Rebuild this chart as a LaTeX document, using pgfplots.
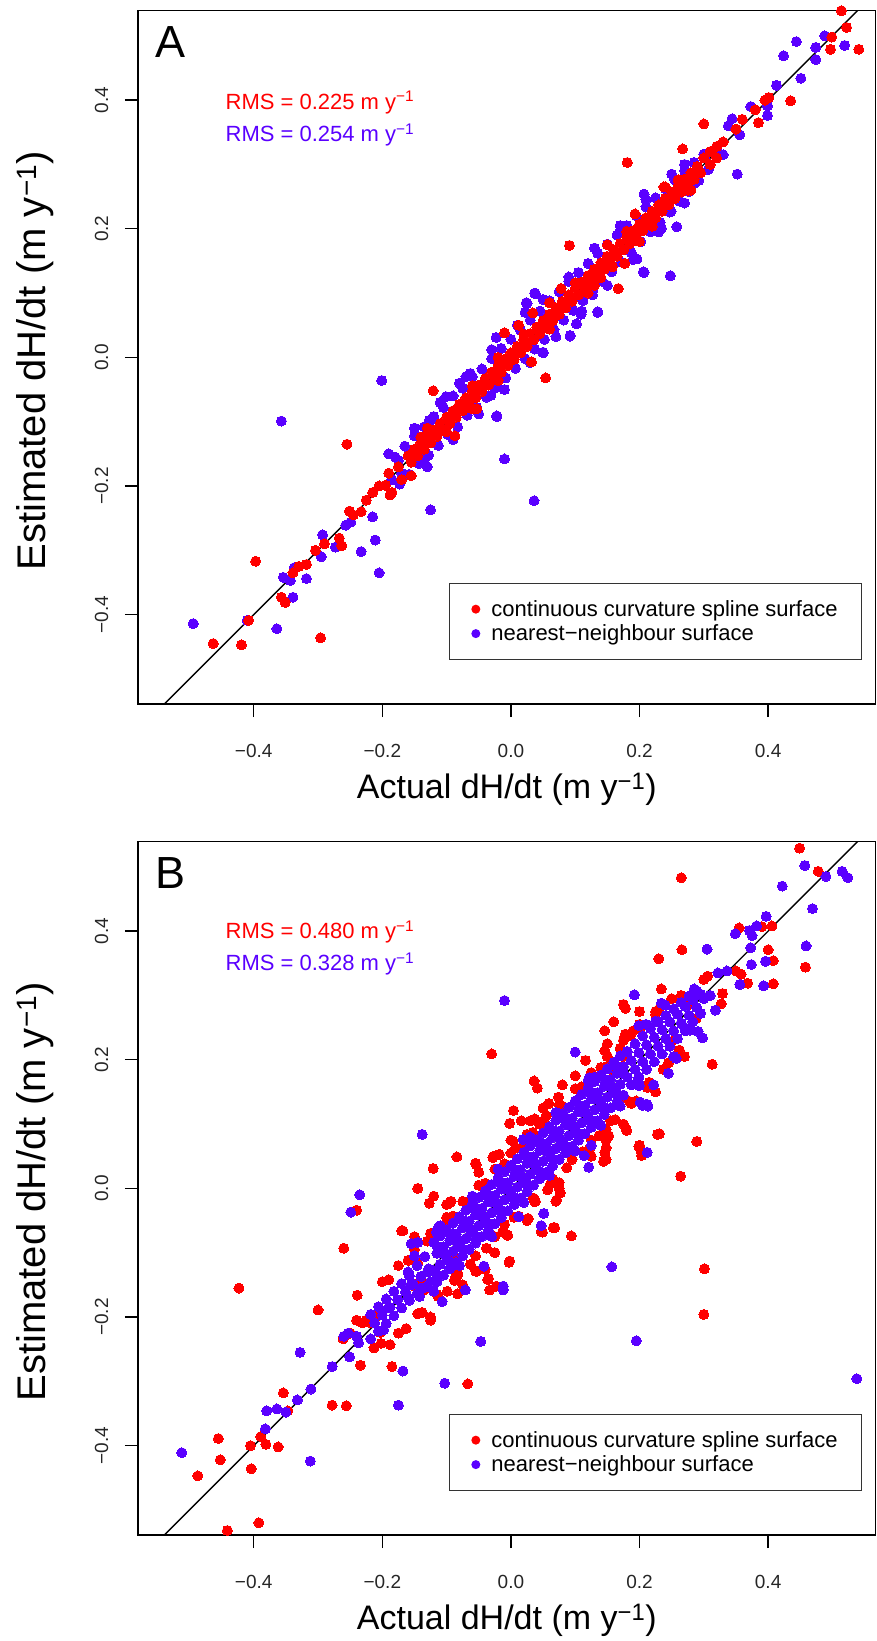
\documentclass[border=0pt]{standalone}
\usepackage{fontspec}
\setmainfont{Liberation Sans}
\usepackage{pgfplots}
\pgfplotsset{compat=1.18}

\definecolor{cred}{RGB}{255,0,0}
\definecolor{cblue}{RGB}{90,0,255}

\pgfplotsset{
  panel/.style={
    scale only axis, width=737.5pt, height=693.3pt,
    xmin=-0.580, xmax=0.567, ymin=-0.539, ymax=0.539,
    axis line style={line width=1.3pt},
    tick style={line width=1.3pt, black},
    tick align=outside, major tick length=13pt, tick pos=left,
    xtick={-0.4,-0.2,0,0.2,0.4}, ytick={-0.4,-0.2,0,0.2,0.4},
    xticklabels={−0.4,−0.2,0.0,0.2,0.4},
    yticklabels={−0.4,−0.2,0.0,0.2,0.4},
    tick label style={font=\fontsize{19}{22}\selectfont, text=black!85},
    xticklabel style={anchor=center, yshift=-34pt},
    yticklabel style={rotate=90, anchor=center, yshift=23.5pt},
    xlabel={Actual dH/dt (m y\textsuperscript{−1})},
    ylabel={Estimated dH/dt (m y\textsuperscript{−1})},
    xlabel style={font=\fontsize{34}{40}\selectfont, at={(axis description cs:0.5,-0.136)}, anchor=base},
    ylabel style={font=\fontsize{40}{46}\selectfont, at={(axis description cs:-0.126,0.495)}, anchor=base},
    legend image code/.code={\draw[#1] plot coordinates {(0pt,0pt)}; \path (-4pt,0pt) (13pt,0pt);},
    legend cell align=left,
    legend style={at={(axis description cs:0.982,0.0635)}, anchor=south east,
      draw=black!80, line width=1.3pt, font=\fontsize{22}{26}\selectfont,
      inner xsep=22pt, inner ysep=16pt, row sep=5pt,
      nodes={inner ysep=1pt}},
  },
  redpt/.style={only marks, mark=*, mark size=5pt, color=cred, mark options={line width=0pt}, forget plot},
  bluept/.style={only marks, mark=*, mark size=5pt, color=cblue, mark options={line width=0pt}, forget plot},
}

\begin{document}
\begin{tikzpicture}

% ---------------- panel A ----------------
\begin{axis}[panel, at={(138pt,-704pt)}, anchor=south west]
\addlegendimage{only marks, mark=*, mark size=3.8pt, color=cred}
\addlegendentry{continuous curvature spline surface}
\addlegendimage{only marks, mark=*, mark size=3.8pt, color=cblue}
\addlegendentry{nearest−neighbour surface}

% nearest-neighbour surface, band
\addplot[bluept] coordinates {
(-0.180,-0.155) (-0.173,-0.197) (-0.165,-0.138) (-0.158,-0.182)
(-0.150,-0.122) (-0.143,-0.165) (-0.135,-0.108) (-0.128,-0.152)
(-0.120,-0.092) (-0.113,-0.137) (-0.105,-0.078) (-0.098,-0.120)
(-0.090,-0.060) (-0.083,-0.108) (-0.075,-0.048) (-0.068,-0.090)
(-0.060,-0.030) (-0.053,-0.078) (-0.045,-0.018) (-0.038,-0.062)
(-0.030,-0.002) (-0.023,-0.047) (-0.015,0.014) (-0.008,-0.032)
(0.000,0.028) (0.007,-0.017) (0.015,0.042) (0.022,-0.002)
(0.030,0.058) (0.037,0.013) (0.045,0.072) (0.052,0.028)
(0.060,0.088) (0.067,0.043) (0.075,0.102) (0.082,0.058)
(0.090,0.118) (0.097,0.073) (0.105,0.132) (0.112,0.088)
(0.120,0.146) (0.127,0.103) (0.135,0.162) (0.142,0.118)
(0.150,0.176) (0.157,0.133) (0.165,0.190) (0.172,0.148)
(0.180,0.205) (0.187,0.163) (0.195,0.220) (0.202,0.180)
(0.210,0.234) (0.217,0.195) (0.225,0.248) (0.232,0.210)
(0.240,0.262) (0.247,0.226) (0.255,0.276) (0.262,0.243)
(0.270,0.290) (0.277,0.258) (0.285,0.303) (0.292,0.275)
(0.300,0.316) (0.307,0.292)
(-0.150,-0.110) (-0.110,-0.070) (-0.070,-0.030) (-0.030,0.012) (0.010,0.050)
(0.050,0.090) (0.090,0.125) (0.130,0.170) (0.170,0.205) (0.210,0.245) (0.250,0.285)
(-0.130,-0.170) (-0.090,-0.128) (-0.050,-0.088) (-0.010,-0.050) (0.030,-0.008)
(0.070,0.032) (0.110,0.072) (0.150,0.112) (0.190,0.152) (0.230,0.195) (0.270,0.240)
};
% nearest-neighbour surface, scattered points
\addplot[bluept] coordinates {
(-0.494,-0.414) (-0.364,-0.422) (-0.357,-0.099) (-0.201,-0.036) (-0.010,-0.158)
(0.036,-0.223) (-0.125,-0.237) (-0.215,-0.248) (-0.211,-0.284) (-0.233,-0.302)
(-0.295,-0.310) (-0.293,-0.276) (-0.273,-0.295) (-0.205,-0.335) (-0.318,-0.344)
(-0.354,-0.342) (-0.343,-0.347) (-0.337,-0.327) (-0.339,-0.373) (-0.410,-0.409)
(-0.257,-0.261) (-0.249,-0.256) (-0.022,-0.092) (-0.134,-0.157) (-0.080,-0.040)
(-0.125,-0.098) (-0.031,-0.059) (-0.190,-0.150) (-0.175,-0.160) (-0.185,-0.190)
(-0.170,-0.180) (-0.063,-0.025) (-0.101,-0.061) (-0.127,-0.098) (-0.022,-0.091)
(0.037,0.100) (0.024,0.085) (-0.023,0.031) (0.092,0.033) (0.109,0.067)
(0.135,0.071) (0.195,0.153) (0.207,0.132) (0.127,0.097) (0.050,0.007)
(0.488,0.500) (0.444,0.491) (0.424,0.469) (0.474,0.482) (0.474,0.463)
(0.519,0.485) (0.451,0.434) (0.413,0.423) (0.399,0.391) (0.399,0.376)
(0.373,0.390) (0.344,0.371) (0.356,0.346) (0.338,0.360) (0.352,0.285)
(0.303,0.315) (0.270,0.300) (0.207,0.254) (0.249,0.227) (0.234,0.201)
(0.258,0.203) (0.169,0.195) (0.196,0.153) (0.206,0.133) (0.248,0.127)
(0.135,0.070) (0.102,0.052) (0.092,0.034) (0.038,0.099) (0.025,0.084)
(0.022,0.070) (0.050,0.008) (0.320,0.325) (0.330,0.315) (0.285,0.270)
};
% continuous curvature spline surface, band
\addplot[redpt] coordinates {
(-0.160,-0.153) (-0.155,-0.163) (-0.150,-0.143) (-0.145,-0.153)
(-0.140,-0.133) (-0.135,-0.143) (-0.130,-0.123) (-0.125,-0.133)
(-0.120,-0.113) (-0.115,-0.123) (-0.110,-0.103) (-0.105,-0.113)
(-0.100,-0.093) (-0.095,-0.103) (-0.090,-0.083) (-0.085,-0.093)
(-0.080,-0.073) (-0.075,-0.083) (-0.070,-0.063) (-0.065,-0.073)
(-0.060,-0.053) (-0.055,-0.063) (-0.050,-0.043) (-0.045,-0.053)
(-0.040,-0.033) (-0.035,-0.043) (-0.030,-0.023) (-0.025,-0.033)
(-0.020,-0.013) (-0.015,-0.023) (-0.010,-0.003) (-0.005,-0.013)
(0.000,0.007) (0.005,-0.003) (0.010,0.017) (0.015,0.007)
(0.020,0.027) (0.025,0.017) (0.030,0.037) (0.035,0.027)
(0.040,0.047) (0.045,0.037) (0.050,0.057) (0.055,0.047)
(0.060,0.067) (0.065,0.057) (0.070,0.077) (0.075,0.067)
(0.080,0.087) (0.085,0.077) (0.090,0.097) (0.095,0.087)
(0.100,0.107) (0.105,0.097) (0.110,0.117) (0.115,0.107)
(0.120,0.127) (0.125,0.117) (0.130,0.137) (0.135,0.127)
(0.140,0.147) (0.145,0.137) (0.150,0.157) (0.155,0.147)
(0.160,0.167) (0.165,0.157) (0.170,0.177) (0.175,0.167)
(0.180,0.187) (0.185,0.177) (0.190,0.197) (0.195,0.187)
(0.200,0.207) (0.205,0.197) (0.210,0.217) (0.215,0.207)
(0.220,0.227) (0.225,0.217) (0.230,0.237) (0.235,0.227)
(0.240,0.247) (0.245,0.237) (0.250,0.257) (0.255,0.247)
(0.260,0.267) (0.265,0.257) (0.270,0.277) (0.275,0.267)
(0.280,0.287) (0.285,0.277) (0.290,0.297) (0.295,0.287)
(-0.140,-0.124) (-0.100,-0.116) (-0.060,-0.044) (-0.020,-0.036) (0.020,0.036)
(0.060,0.044) (0.100,0.116) (0.140,0.124) (0.180,0.196) (0.220,0.204)
(0.260,0.276) (0.300,0.310) (0.310,0.300) (0.320,0.328)
};
% continuous curvature spline surface, scattered points
\addplot[redpt] coordinates {
(-0.190,-0.180) (-0.170,-0.190) (-0.130,-0.110) (-0.060,-0.080) (-0.020,0.000)
(0.060,0.085) (0.120,0.100) (0.150,0.175) (0.200,0.180) (0.240,0.265)
(0.280,0.260) (0.310,0.320) (0.330,0.335) (0.350,0.355) (0.360,0.370)
(0.380,0.385) (0.395,0.400) (0.320,0.310)
(-0.339,-0.335) (-0.330,-0.325) (-0.318,-0.322) (-0.304,-0.300) (-0.290,-0.290)
(-0.267,-0.281) (-0.263,-0.293) (-0.251,-0.239) (-0.245,-0.245) (-0.233,-0.240)
(-0.225,-0.222) (-0.215,-0.210) (-0.205,-0.200) (-0.195,-0.199) (-0.188,-0.214)
(-0.185,-0.210) (-0.175,-0.170) (-0.155,-0.184)
(-0.463,-0.445) (-0.419,-0.447) (-0.408,-0.409) (-0.397,-0.317) (-0.357,-0.373)
(-0.351,-0.381) (-0.296,-0.436) (-0.255,-0.135) (-0.121,-0.052) (0.054,-0.032)
(0.032,-0.007) (-0.087,-0.122) (-0.053,-0.080) (0.091,0.174) (0.167,0.107)
(0.177,0.146) (0.158,0.141) (0.130,0.112) (0.193,0.223) (0.078,0.107)
(-0.010,0.038) (0.012,0.050) (0.034,0.069) (0.181,0.303) (0.238,0.265)
(0.275,0.260) (0.267,0.324) (0.300,0.363) (0.385,0.365) (0.401,0.404)
(0.435,0.399) (0.497,0.479) (0.541,0.479) (0.499,0.498) (0.522,0.513)
(0.514,0.539)
};
\addplot[black, line width=1.4pt, forget plot] coordinates {(-0.6,-0.6) (0.6,0.6)};
\node[anchor=north west, inner sep=0pt, font=\fontsize{45}{50}\selectfont] at (axis description cs:0.023,0.978) {A};
\node[anchor=base west, inner sep=0pt, text=cred, font=\fontsize{22}{26}\selectfont] at (axis cs:-0.444,0.386) {RMS = 0.225 m y\textsuperscript{−1}};
\node[anchor=base west, inner sep=0pt, text=cblue, font=\fontsize{22}{26}\selectfont] at (axis cs:-0.444,0.335) {RMS = 0.254 m y\textsuperscript{−1}};
\end{axis}

% ---------------- panel B ----------------
\begin{axis}[panel, at={(138pt,-1535pt)}, anchor=south west]
\addlegendimage{only marks, mark=*, mark size=3.8pt, color=cred}
\addlegendentry{continuous curvature spline surface}
\addlegendimage{only marks, mark=*, mark size=3.8pt, color=cblue}
\addlegendentry{nearest−neighbour surface}

% continuous curvature spline surface, halo round the band
\addplot[redpt] coordinates {
(-0.200,-0.145) (-0.188,-0.243) (-0.175,-0.120) (-0.163,-0.218)
(-0.150,-0.095) (-0.138,-0.193) (-0.125,-0.070) (-0.113,-0.168)
(-0.100,-0.045) (-0.088,-0.143) (-0.075,-0.020) (-0.063,-0.118)
(-0.050,0.005) (-0.038,-0.093) (-0.025,0.030) (-0.013,-0.068)
(0.000,0.055) (0.012,-0.043) (0.025,0.080) (0.037,-0.018)
(0.050,0.105) (0.062,0.007) (0.075,0.130) (0.087,0.032)
(0.100,0.155) (0.112,0.057) (0.125,0.180) (0.137,0.082)
(0.150,0.205) (0.162,0.107) (0.175,0.230) (0.187,0.132)
(0.200,0.255) (0.212,0.157) (0.225,0.275) (0.237,0.185)
(0.250,0.295) (0.262,0.215)
(-0.190,-0.142) (-0.160,-0.112) (-0.130,-0.082) (-0.100,-0.052) (-0.070,-0.022)
(-0.040,0.008) (-0.010,0.038) (0.020,0.068) (0.050,0.098) (0.080,0.128)
(0.110,0.158) (0.140,0.188) (0.170,0.218) (0.200,0.248) (0.230,0.278)
(-0.175,-0.225) (-0.145,-0.195) (-0.115,-0.165) (-0.085,-0.135) (-0.055,-0.105)
(-0.025,-0.075) (0.005,-0.045) (0.035,-0.015) (0.065,0.015) (0.095,0.045)
(0.125,0.075) (0.155,0.105) (0.185,0.135) (0.215,0.165) (0.245,0.195)
(-0.150,-0.075) (-0.100,-0.025) (-0.050,0.025) (0.000,0.075) (0.050,0.125)
(0.100,0.175) (0.150,0.225) (0.200,0.275)
(-0.125,-0.200) (-0.075,-0.150) (-0.025,-0.100) (0.025,-0.050) (0.075,0.000)
(0.125,0.050) (0.175,0.100) (0.225,0.150)
};
% continuous curvature spline surface, scattered points
\addplot[redpt] coordinates {
(0.449,0.529) (0.478,0.493) (0.265,0.483) (0.266,0.371) (0.230,0.357)
(0.400,0.371) (0.408,0.354) (0.406,0.408) (0.390,0.407) (0.355,0.405)
(0.458,0.344) (0.408,0.318) (0.368,0.319) (0.358,0.333) (0.350,0.338)
(0.306,0.330) (0.300,0.325) (0.234,0.310) (0.270,0.290) (0.265,0.300)
(0.275,0.285) (0.329,0.303) (0.327,0.287) (0.288,0.264) (0.175,0.286)
(0.178,0.280) (0.160,0.259) (0.146,0.245) (0.225,0.271) (0.178,0.240)
(0.186,0.238) (0.190,0.245) (0.255,0.232) (0.270,0.205) (0.313,0.193)
(-0.030,0.209) (0.116,0.199) (0.146,0.214) (0.150,0.205) (0.172,0.214)
(0.174,0.205) (0.150,0.190) (0.160,0.180) (0.036,0.167) (0.041,0.156)
(0.080,0.161) (0.074,0.142) (0.059,0.132) (0.004,0.121) (-0.002,0.101)
(0.030,0.105) (0.037,0.108) (0.044,0.100) (0.055,0.113) (0.016,0.105)
(0.034,0.087) (0.025,0.084) (-0.055,0.039) (-0.027,0.050) (-0.018,0.053)
(-0.028,0.048) (0.180,0.090) (0.231,0.085) (0.289,0.073) (0.148,0.092)
(0.152,0.082) (0.148,0.075) (0.148,0.063) (0.148,0.045) (0.146,0.056)
(0.144,0.042) (0.200,0.067) (0.202,0.059) (0.203,0.051) (0.264,0.019)
(0.075,0.009) (0.070,-0.020) (0.071,-0.018) (0.077,-0.007) (0.057,-0.002)
(0.038,-0.020) (0.179,0.092) (0.199,0.065) (0.195,0.136) (0.228,0.084)
(0.172,0.139) (0.122,0.061) (0.003,0.074) (0.008,0.063) (-0.084,0.049)
(-0.121,0.031) (-0.054,0.037) (-0.145,0.000) (-0.120,-0.012) (-0.127,-0.023)
(-0.095,-0.022) (-0.090,-0.043) (-0.168,-0.066) (-0.088,-0.106) (-0.083,-0.132)
(-0.054,-0.129) (-0.041,-0.124) (-0.036,-0.142) (-0.033,-0.158) (-0.023,-0.152)
(-0.002,-0.113) (-0.010,-0.056) (-0.006,-0.072) (0.068,-0.061) (0.094,-0.074)
(0.049,-0.068) (0.026,-0.047) (0.301,-0.125) (0.300,-0.196) (0.047,-0.067)
(-0.040,-0.126) (-0.015,-0.051) (-0.005,-0.073) (-0.093,-0.020) (-0.240,-0.034)
(-0.260,-0.093) (-0.170,-0.066) (-0.423,-0.155) (-0.239,-0.166) (-0.300,-0.189)
(-0.125,-0.205) (-0.003,-0.115) (-0.083,-0.164) (-0.083,-0.135) (-0.055,-0.128)
(-0.035,-0.140) (-0.099,-0.160) (0.066,-0.061) (0.037,-0.021) (0.027,-0.047)
(-0.185,-0.277) (-0.234,-0.275) (-0.278,-0.337) (-0.256,-0.338) (-0.067,-0.304)
(-0.202,-0.241) (-0.213,-0.248) (-0.203,-0.224) (-0.261,-0.234) (-0.250,-0.225)
(-0.240,-0.205) (-0.225,-0.205) (-0.210,-0.200) (-0.218,-0.209) (-0.231,-0.209)
(-0.145,-0.116) (-0.140,-0.142) (-0.150,-0.152) (-0.135,-0.158)
(-0.354,-0.318) (-0.347,-0.346) (-0.455,-0.389) (-0.452,-0.422) (-0.487,-0.447)
(-0.404,-0.436) (-0.405,-0.400) (-0.389,-0.386) (-0.381,-0.398) (-0.362,-0.402)
(-0.392,-0.520) (-0.441,-0.532)
};
% nearest-neighbour surface, scattered points
\addplot[bluept] coordinates {
(0.457,0.502) (0.515,0.493) (0.524,0.483) (0.490,0.485) (0.422,0.470)
(0.469,0.435) (0.459,0.377) (0.397,0.423) (0.382,0.408) (0.371,0.401)
(0.375,0.393) (0.349,0.396) (0.373,0.374) (0.374,0.348) (0.396,0.353)
(0.393,0.315) (0.356,0.317) (0.305,0.372) (0.322,0.335) (0.336,0.338)
(-0.010,0.292) (0.192,0.301) (0.234,0.288) (0.318,0.277) (0.310,0.300)
(0.300,0.295) (0.280,0.300) (0.285,0.310) (0.100,0.212) (0.199,0.253)
(0.210,0.255) (0.225,0.260) (0.279,0.246) (0.291,0.244) (0.298,0.234)
(0.270,0.250) (0.245,0.179) (0.222,0.161) (0.257,0.202) (0.253,0.205)
(0.201,0.134) (0.205,0.129) (0.211,0.131) (0.199,0.160) (0.196,0.165)
(0.212,0.056) (0.114,0.051) (0.121,0.033) (0.125,0.067) (0.051,-0.039)
(0.047,-0.058) (0.012,-0.044) (0.122,0.172) (0.130,0.173) (0.019,0.076)
(-0.138,0.084) (0.157,-0.122) (0.213,0.128) (0.538,-0.296) (0.195,-0.237)
(-0.047,-0.238) (-0.012,-0.152) (-0.012,-0.158) (-0.042,-0.121) (-0.071,-0.158)
(-0.235,-0.010) (-0.249,-0.037) (-0.328,-0.255) (-0.103,-0.303) (-0.168,-0.284)
(-0.175,-0.337) (-0.312,-0.424) (-0.512,-0.411) (-0.581,-0.415) (-0.339,-0.540)
(-0.380,-0.346) (-0.364,-0.343) (-0.350,-0.348) (-0.382,-0.374) (-0.332,-0.329)
(-0.311,-0.312) (-0.278,-0.277) (-0.251,-0.262) (-0.260,-0.230) (-0.253,-0.225)
(-0.240,-0.230) (-0.237,-0.240) (-0.107,-0.176) (-0.142,-0.168) (-0.145,-0.084)
(-0.155,-0.086) (-0.113,-0.061) (-0.116,-0.068) (-0.200,-0.190) (-0.190,-0.185)
(-0.198,-0.220) (-0.160,-0.130) (-0.155,-0.150) (-0.160,-0.170) (-0.130,-0.130)
(-0.140,-0.155) (-0.125,-0.145)
};
% nearest-neighbour surface, band
\addplot[bluept] coordinates {
(-0.218,-0.196) (-0.212,-0.209) (-0.218,-0.234)
(-0.206,-0.184) (-0.200,-0.197) (-0.206,-0.222)
(-0.194,-0.172) (-0.188,-0.185) (-0.194,-0.210)
(-0.182,-0.160) (-0.176,-0.173) (-0.182,-0.198)
(-0.170,-0.148) (-0.164,-0.161) (-0.170,-0.186)
(-0.158,-0.136) (-0.152,-0.149) (-0.158,-0.174)
(-0.146,-0.120) (-0.140,-0.137) (-0.146,-0.164)
(-0.134,-0.106) (-0.128,-0.125) (-0.134,-0.154)
(-0.120,-0.084) (-0.115,-0.101) (-0.120,-0.128) (-0.115,-0.145)
(-0.110,-0.074) (-0.105,-0.091) (-0.110,-0.118) (-0.105,-0.135)
(-0.100,-0.064) (-0.095,-0.081) (-0.100,-0.108) (-0.095,-0.125)
(-0.090,-0.054) (-0.085,-0.071) (-0.090,-0.098) (-0.085,-0.115)
(-0.080,-0.044) (-0.075,-0.061) (-0.080,-0.088) (-0.075,-0.105)
(-0.070,-0.034) (-0.065,-0.051) (-0.070,-0.078) (-0.065,-0.095)
(-0.060,-0.024) (-0.055,-0.041) (-0.060,-0.068) (-0.055,-0.085)
(-0.050,-0.014) (-0.045,-0.031) (-0.050,-0.058) (-0.045,-0.075)
(-0.040,-0.004) (-0.035,-0.021) (-0.040,-0.048) (-0.035,-0.065)
(-0.030,0.006) (-0.025,-0.011) (-0.030,-0.038) (-0.025,-0.055)
(-0.020,0.016) (-0.015,-0.001) (-0.020,-0.028) (-0.015,-0.045)
(-0.010,0.026) (-0.005,0.009) (-0.010,-0.018) (-0.005,-0.035)
(0.000,0.036) (0.005,0.019) (0.000,-0.008) (0.005,-0.025)
(0.010,0.046) (0.015,0.029) (0.010,0.002) (0.015,-0.015)
(0.020,0.056) (0.025,0.039) (0.020,0.012) (0.025,-0.005)
(0.030,0.066) (0.035,0.049) (0.030,0.022) (0.035,0.005)
(0.040,0.076) (0.045,0.059) (0.040,0.032) (0.045,0.015)
(0.050,0.086) (0.055,0.069) (0.050,0.042) (0.055,0.025)
(0.060,0.096) (0.065,0.079) (0.060,0.052) (0.065,0.035)
(0.070,0.106) (0.075,0.089) (0.070,0.062) (0.075,0.045)
(0.080,0.116) (0.085,0.099) (0.080,0.072) (0.085,0.055)
(0.090,0.126) (0.095,0.109) (0.090,0.082) (0.095,0.065)
(0.100,0.136) (0.105,0.119) (0.100,0.092) (0.105,0.075)
(0.110,0.146) (0.115,0.129) (0.110,0.102) (0.115,0.085)
(0.120,0.156) (0.125,0.139) (0.120,0.112) (0.125,0.095)
(0.130,0.166) (0.135,0.149) (0.130,0.122) (0.135,0.105)
(0.140,0.176) (0.145,0.159) (0.140,0.132) (0.145,0.115)
(0.150,0.186) (0.155,0.169) (0.150,0.142) (0.155,0.125)
(0.160,0.196) (0.165,0.179) (0.160,0.152) (0.165,0.135)
(0.170,0.206) (0.175,0.189) (0.170,0.162) (0.175,0.145)
(0.181,0.213) (0.187,0.199) (0.181,0.173) (0.187,0.161)
(0.193,0.225) (0.199,0.211) (0.193,0.185) (0.199,0.173)
(0.205,0.237) (0.211,0.223) (0.205,0.197) (0.211,0.185)
(0.217,0.249) (0.223,0.235) (0.217,0.209) (0.223,0.197)
(0.229,0.259) (0.235,0.247) (0.229,0.221) (0.235,0.209)
(0.241,0.269) (0.247,0.259) (0.241,0.233) (0.247,0.221)
(0.253,0.279) (0.259,0.271) (0.253,0.245) (0.259,0.233)
(0.265,0.289) (0.271,0.283) (0.265,0.257) (0.271,0.245)
(0.277,0.299) (0.283,0.293) (0.277,0.269) (0.283,0.259)
(0.289,0.307) (0.295,0.302) (0.289,0.281) (0.295,0.272)
(-0.115,-0.090) (-0.105,-0.102) (-0.115,-0.134)
(-0.095,-0.070) (-0.085,-0.082) (-0.095,-0.114)
(-0.075,-0.050) (-0.065,-0.062) (-0.075,-0.094)
(-0.055,-0.030) (-0.045,-0.042) (-0.055,-0.074)
(-0.035,-0.010) (-0.025,-0.022) (-0.035,-0.054)
(-0.015,0.010) (-0.005,-0.002) (-0.015,-0.034)
(0.005,0.030) (0.015,0.018) (0.005,-0.014)
(0.025,0.050) (0.035,0.038) (0.025,0.006)
(0.045,0.070) (0.055,0.058) (0.045,0.026)
(0.065,0.090) (0.075,0.078) (0.065,0.046)
(0.085,0.110) (0.095,0.098) (0.085,0.066)
(0.105,0.130) (0.115,0.118) (0.105,0.086)
(0.125,0.150) (0.135,0.138) (0.125,0.106)
(0.145,0.170) (0.155,0.158) (0.145,0.126)
(0.165,0.190) (0.175,0.178) (0.165,0.146)
(-0.110,-0.058) (-0.060,-0.012) (-0.020,0.030) (0.030,0.080) (0.070,0.118)
(0.120,0.168) (-0.080,-0.120) (-0.030,-0.075) (0.020,-0.022) (0.060,0.020)
(0.100,0.058) (0.140,0.098) (0.170,0.128) (-0.150,-0.105) (-0.120,-0.160)
(0.200,0.160) (0.240,0.285)
};
\addplot[black, line width=1.4pt, forget plot] coordinates {(-0.6,-0.6) (0.6,0.6)};
\node[anchor=north west, inner sep=0pt, font=\fontsize{45}{50}\selectfont] at (axis description cs:0.023,0.978) {B};
\node[anchor=base west, inner sep=0pt, text=cred, font=\fontsize{22}{26}\selectfont] at (axis cs:-0.444,0.388) {RMS = 0.480 m y\textsuperscript{−1}};
\node[anchor=base west, inner sep=0pt, text=cblue, font=\fontsize{22}{26}\selectfont] at (axis cs:-0.444,0.338) {RMS = 0.328 m y\textsuperscript{−1}};
\end{axis}

\pgfresetboundingbox
\path[use as bounding box] (0pt,0pt) rectangle (877pt,-1641pt);
\end{tikzpicture}
\end{document}
